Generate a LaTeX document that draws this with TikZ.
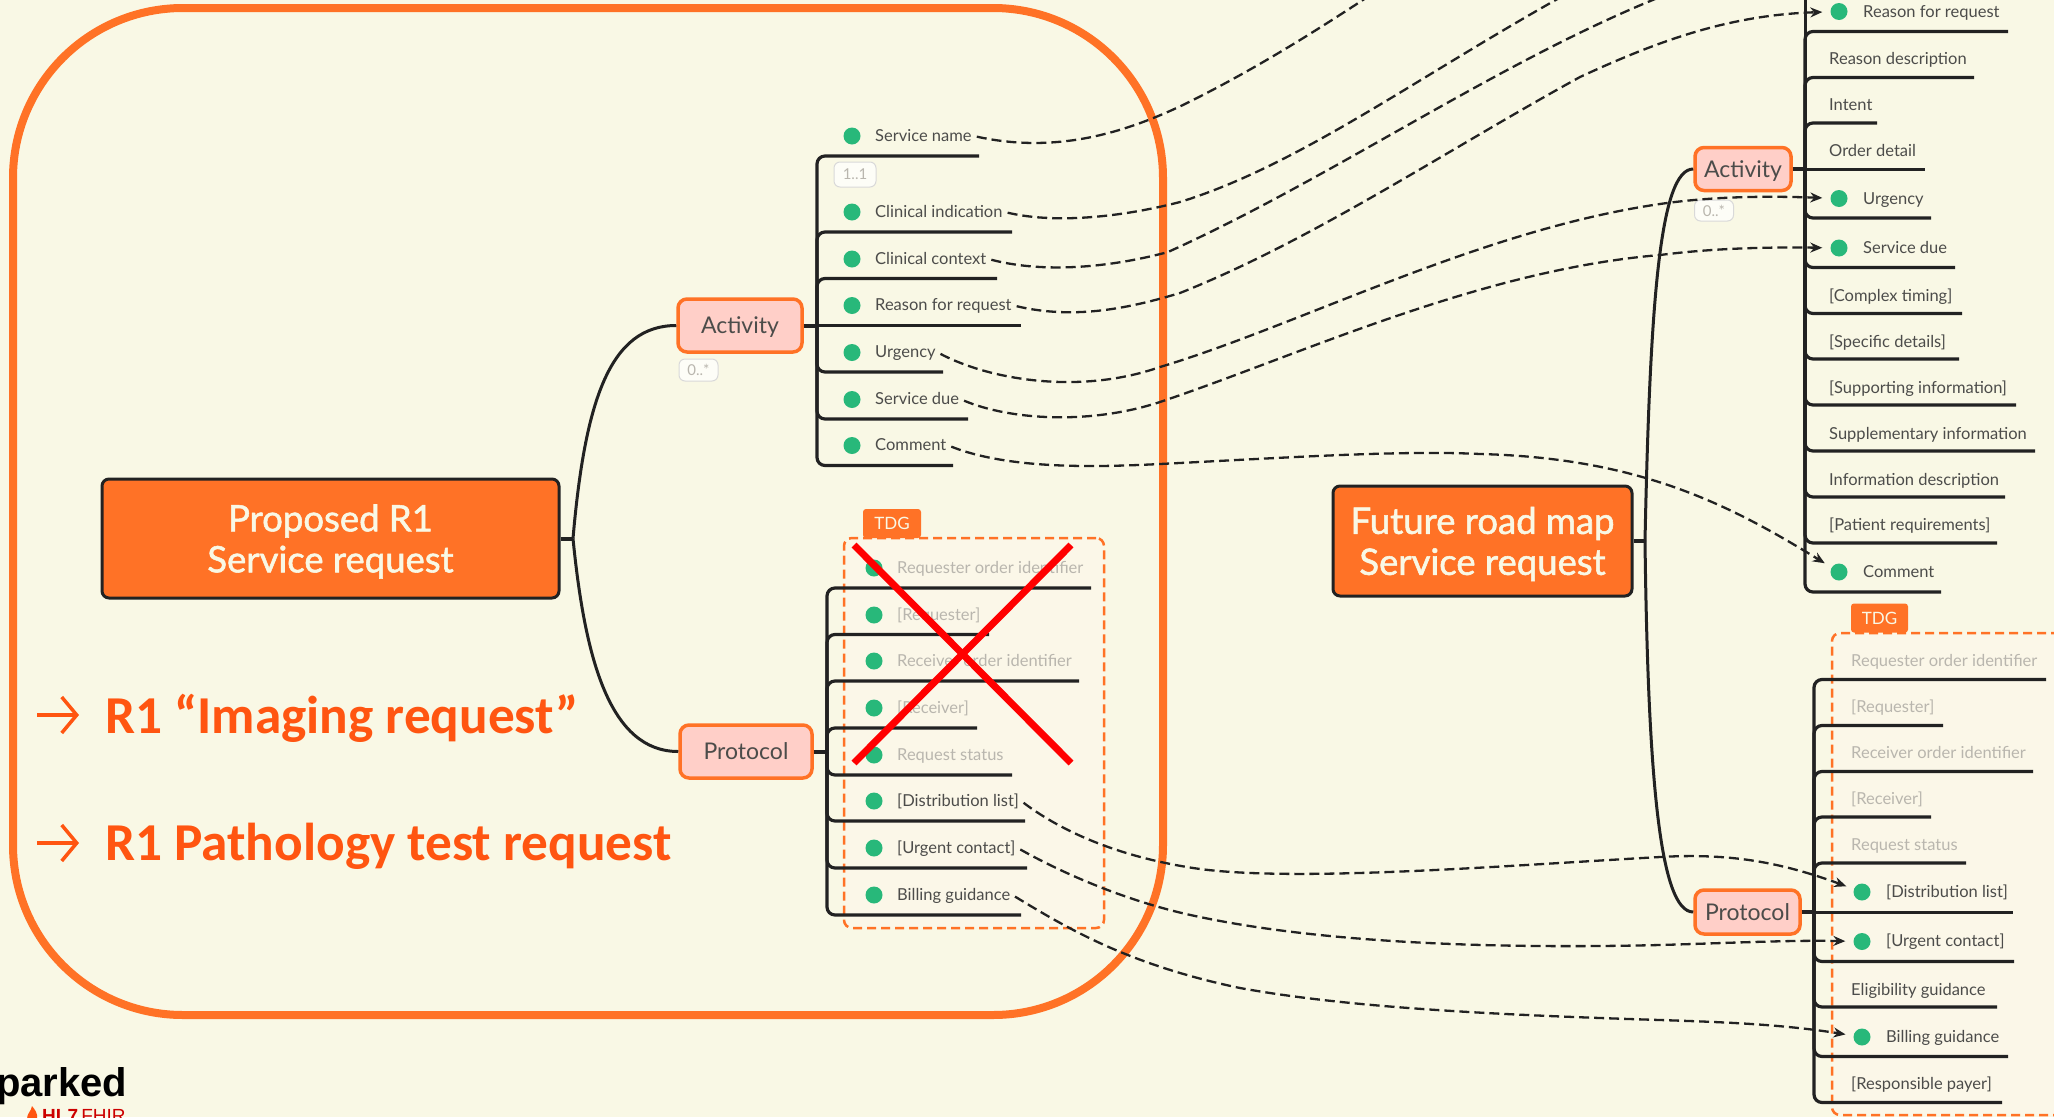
\documentclass[tikz,border=0pt]{standalone}
\usepackage{fontspec}
\setmainfont{Lato}
\newfontfamily\redfont{Carlito}
\newfontfamily\logofont{Liberation Sans}
\newfontfamily\rootfont{Lato}[FakeBold=1.5]
\usepackage{tikz}
\usetikzlibrary{arrows.meta}
\usepackage{xcolor}

\definecolor{paper}{HTML}{F9F8E5}
\definecolor{hlorange}{HTML}{FF7226}
\definecolor{hlpink}{HTML}{FFCFC8}
\definecolor{hlgreen}{HTML}{28B87A}
\definecolor{hlred}{HTML}{FF5511}
\definecolor{ink}{HTML}{222222}
\definecolor{leaftext}{HTML}{4C4C4A}
\definecolor{fadetext}{HTML}{B9B6AE}
\definecolor{tdgfill}{HTML}{FBF7E8}

\tikzset{
    root/.style={draw=ink,fill=hlorange,line width=3pt,rounded corners=7pt,text=paper,align=center,font=\rootfont\fontsize{36.5}{41}\selectfont},
    group/.style={draw=hlorange,fill=hlpink,line width=3.5pt,rounded corners=9pt,text=leaftext,text height=17pt,text depth=1pt,font=\fontsize{23}{27}\selectfont},
    leaf/.style={anchor=west,inner sep=2pt,text height=12pt,text depth=2pt,text=leaftext,font=\fontsize{16.5}{19}\selectfont},
    fade/.style={leaf,text=fadetext},
    dot/.style={circle,fill=hlgreen,inner sep=0pt,minimum size=17pt},
    pill/.style={draw=black!15,fill=white!70!paper,line width=1pt,rounded corners=6pt,text=fadetext,font=\fontsize{15}{18}\selectfont},
    tdg/.style={fill=hlorange,rounded corners=3pt,text=paper,font=\fontsize{17}{20}\selectfont},
    tdgbox/.style={draw=hlorange,fill=tdgfill,line width=2.5pt,dash pattern=on 9pt off 5pt,rounded corners=8pt},
    branch/.style={draw=ink,line width=3.2pt,rounded corners=8pt},
    trunk/.style={draw=ink,line width=3pt},
    stem/.style={draw=ink,line width=4pt},
    link/.style={draw=ink,line width=2.3pt,dash pattern=on 10pt off 5pt,shorten <=3pt},
    linkto/.style={link,shorten >=8pt,-{Stealth[length=12pt,width=10pt]}},
    callout/.style={anchor=base west,inner sep=0pt,text=hlred,font=\redfont\bfseries\fontsize{53.3}{60}\selectfont},
    calloutarrow/.style={draw=hlred,line width=3.5pt,-{Straight Barb[length=15pt,width=36pt]}}
}

\begin{document}
\begin{tikzpicture}[x=1pt,y=-1pt]
        \useasboundingbox (0,0) rectangle (2054,1117);
        \fill[paper] (0,0) rectangle (2054,1117);

        \node [draw=hlorange,line width=8pt,rounded corners=170pt,minimum width=1150pt,minimum height=1007pt] (frame) at (588,511.5) {};
        \node [tdgbox,minimum width=260pt,minimum height=390pt] (ltdg) at (974,733) {};
        \node [tdgbox,minimum width=250pt,minimum height=482pt] (rtdg) at (1957,874) {};
        \node [tdg,minimum width=58pt,minimum height=29pt] (ltab) at (892,523.5) {TDG};
        \node [tdg,minimum width=57pt,minimum height=29pt] (rtab) at (1879.5,618) {TDG};

        \node [root,minimum width=457pt,minimum height=119pt] (lroot) at (330.5,538.5) {\rule{0pt}{33pt}Proposed R1\\Service request};
        \node [root,minimum width=299pt,minimum height=110pt] (rroot) at (1482.5,541) {\rule{0pt}{33pt}Future road map\\Service request};
        \node [group,minimum width=124pt,minimum height=53pt] (lact) at (740,325.5) {Activity};
        \node [group,minimum width=132pt,minimum height=53pt] (lpro) at (746,751.5) {Protocol};
        \node [group,minimum width=96pt,minimum height=43pt] (ract) at (1743,169) {Activity};
        \node [group,minimum width=105pt,minimum height=44pt] (rpro) at (1747.5,912) {Protocol};
        \node [pill,minimum width=42pt,minimum height=25pt] (lone) at (855,174.5) {1..1};
        \node [pill,minimum width=39pt,minimum height=22pt] (lcard) at (698.5,370) {0..*};
        \node [pill,minimum width=39pt,minimum height=21pt] (rcard) at (1714,210.5) {0..*};

        \coordinate (ljoin) at (573,538.5);
        \coordinate (rjoin) at (1645,541);
        \coordinate (lspa) at (817,325.5);
        \coordinate (lspp) at (827,751.5);
        \coordinate (rspa) at (1805,169);
        \coordinate (rspp) at (1814,912);
        \coordinate (rtop) at (1805,-6);

        \coordinate (lsne) at (979,156);
        \coordinate (lcie) at (1012,232);
        \coordinate (lcce) at (997,278.5);
        \coordinate (lrre) at (1021,325.5);
        \coordinate (lure) at (943,372);
        \coordinate (lsde) at (968,419);
        \coordinate (lcoe) at (953,465.5);
        \coordinate (lroe) at (1091,588);
        \coordinate (lrqe) at (989,634.5);
        \coordinate (lrce) at (1079,681);
        \coordinate (lrve) at (977,728);
        \coordinate (lste) at (1012,775);
        \coordinate (ldle) at (1025,821);
        \coordinate (luce) at (1027,868);
        \coordinate (lbge) at (1021,915);
        \coordinate (rrre) at (2008,31.5);
        \coordinate (rrde) at (1974,77.5);
        \coordinate (rine) at (1877,123);
        \coordinate (rode) at (1925,169);
        \coordinate (rure) at (1931,218);
        \coordinate (rsde) at (1955,267.5);
        \coordinate (rcte) at (1962,313.5);
        \coordinate (rspe) at (1959,359);
        \coordinate (rsue) at (2016,405);
        \coordinate (rsme) at (2035,451);
        \coordinate (rpie) at (2005,497);
        \coordinate (rpre) at (1997,543);
        \coordinate (rcoe) at (1941,592);
        \coordinate (rroe) at (2046,679.5);
        \coordinate (rrqe) at (1943,725.5);
        \coordinate (rrce) at (2033,771.5);
        \coordinate (rrve) at (1931,817);
        \coordinate (rste) at (1966,863);
        \coordinate (rdle) at (2013,912);
        \coordinate (ruce) at (2014,961.5);
        \coordinate (rege) at (1997,1007);
        \coordinate (rbge) at (2008,1056.5);
        \coordinate (rrpe) at (2002,1102.5);

        \draw[stem] (lroot) to (ljoin);
        \draw[stem] (rroot) to (rjoin);
        \draw[trunk] (ljoin) .. controls (585,400) and (610,325.5) .. (lact);
        \draw[trunk] (ljoin) .. controls (585,660) and (610,751.5) .. (lpro);
        \draw[trunk] (rjoin) .. controls (1650,300) and (1660,169) .. (ract);
        \draw[trunk] (rjoin) .. controls (1648,780) and (1660,912) .. (rpro);
        \draw[stem] (lact) to (lspa);
        \draw[stem] (lpro) to (lspp);
        \draw[stem] (ract) to (rspa);
        \draw[stem] (rpro) to (rspp);
        \draw[trunk] (lspa) to (lrre);
        \draw[trunk] (rspa) to (rode);
        \draw[trunk] (rspp) to (rdle);
        \draw[trunk] (rspa) to (rtop);

        \draw[branch] (lspa) |- (lsne);
        \draw[branch] (lspa) |- (lcie);
        \draw[branch] (lspa) |- (lcce);
        \draw[branch] (lspa) |- (lure);
        \draw[branch] (lspa) |- (lsde);
        \draw[branch] (lspa) |- (lcoe);
        \draw[branch] (lspp) |- (lroe);
        \draw[branch] (lspp) |- (lrqe);
        \draw[branch] (lspp) |- (lrce);
        \draw[branch] (lspp) |- (lrve);
        \draw[branch] (lspp) |- (lste);
        \draw[branch] (lspp) |- (ldle);
        \draw[branch] (lspp) |- (luce);
        \draw[branch] (lspp) |- (lbge);
        \draw[branch] (rspa) |- (rrre);
        \draw[branch] (rspa) |- (rrde);
        \draw[branch] (rspa) |- (rine);
        \draw[branch] (rspa) |- (rure);
        \draw[branch] (rspa) |- (rsde);
        \draw[branch] (rspa) |- (rcte);
        \draw[branch] (rspa) |- (rspe);
        \draw[branch] (rspa) |- (rsue);
        \draw[branch] (rspa) |- (rsme);
        \draw[branch] (rspa) |- (rpie);
        \draw[branch] (rspa) |- (rpre);
        \draw[branch] (rspa) |- (rcoe);
        \draw[branch] (rspp) |- (rroe);
        \draw[branch] (rspp) |- (rrqe);
        \draw[branch] (rspp) |- (rrce);
        \draw[branch] (rspp) |- (rrve);
        \draw[branch] (rspp) |- (rste);
        \draw[branch] (rspp) |- (ruce);
        \draw[branch] (rspp) |- (rege);
        \draw[branch] (rspp) |- (rbge);
        \draw[branch] (rspp) |- (rrpe);

        \node [dot] (dlsn) at (852,136) {};
        \node [dot] (dlci) at (852,212) {};
        \node [dot] (dlcc) at (852,259) {};
        \node [dot] (dlrr) at (852,305.5) {};
        \node [dot] (dlur) at (852,352.5) {};
        \node [dot] (dlsd) at (852,399.5) {};
        \node [dot] (dlco) at (852,445.5) {};
        \node [dot] (dlro) at (874,568) {};
        \node [dot] (dlrq) at (874,615) {};
        \node [dot] (dlrc) at (874,661) {};
        \node [dot] (dlrv) at (874,708) {};
        \node [dot] (dlst) at (874,755) {};
        \node [dot] (dldl) at (874,801) {};
        \node [dot] (dluc) at (874,848) {};
        \node [dot] (dlbg) at (874,895) {};
        \node [dot] (drrr) at (1839,11.5) {};
        \node [dot] (drur) at (1839,198.5) {};
        \node [dot] (drsd) at (1839,248) {};
        \node [dot] (drco) at (1839,572) {};
        \node [dot] (drdl) at (1862,892) {};
        \node [dot] (druc) at (1862,941.5) {};
        \node [dot] (drbg) at (1862,1037) {};

        \node [leaf] (lsn) at (873,136) {Service name};
        \node [leaf] (lci) at (873,212) {Clinical indication};
        \node [leaf] (lcc) at (873,259) {Clinical context};
        \node [leaf] (lrr) at (873,305.5) {Reason for request};
        \node [leaf] (lur) at (873,352.5) {Urgency};
        \node [leaf] (lsd) at (873,399.5) {Service due};
        \node [leaf] (lco) at (873,445.5) {Comment};
        \node [fade] (lro) at (895,568) {Requester order identifier};
        \node [fade] (lrq) at (895,615) {[Requester]};
        \node [fade] (lrc) at (895,661) {Receiver order identifier};
        \node [fade] (lrv) at (895,708) {[Receiver]};
        \node [fade] (lst) at (895,755) {Request status};
        \node [leaf] (ldl) at (895,801) {[Distribution list]};
        \node [leaf] (luc) at (895,848) {[Urgent contact]};
        \node [leaf] (lbg) at (895,895) {Billing guidance};
        \node [leaf] (rrr) at (1861,12) {Reason for request};
        \node [leaf] (rrd) at (1827,59) {Reason description};
        \node [leaf] (rin) at (1827,105) {Intent};
        \node [leaf] (rod) at (1827,151) {Order detail};
        \node [leaf] (rur) at (1861,199) {Urgency};
        \node [leaf] (rsd) at (1861,248) {Service due};
        \node [leaf] (rct) at (1827,296) {[Complex timing]};
        \node [leaf] (rsp) at (1827,342) {[Specific details]};
        \node [leaf] (rsu) at (1827,388) {[Supporting information]};
        \node [leaf] (rsm) at (1827,434) {Supplementary information};
        \node [leaf] (rpi) at (1827,480) {Information description};
        \node [leaf] (rpr) at (1827,525.5) {[Patient requirements]};
        \node [leaf] (rco) at (1861,572) {Comment};
        \node [fade] (rro) at (1849,661) {Requester order identifier};
        \node [fade] (rrq) at (1849,707) {[Requester]};
        \node [fade] (rrc) at (1849,753) {Receiver order identifier};
        \node [fade] (rrv) at (1849,799) {[Receiver]};
        \node [fade] (rst) at (1849,845.5) {Request status};
        \node [leaf] (rdl) at (1884,892) {[Distribution list]};
        \node [leaf] (ruc) at (1884,941.5) {[Urgent contact]};
        \node [leaf] (reg) at (1849,990) {Eligibility guidance};
        \node [leaf] (rbg) at (1884,1037) {Billing guidance};
        \node [leaf] (rrp) at (1849,1084) {[Responsible payer]};

        \coordinate (upsn) at (1375,-8);
        \coordinate (upci) at (1570,-8);
        \coordinate (upcc) at (1665,-5);
        \draw[link] (lsn.east) .. controls (1060,155) and (1130,130) .. (1183,105) .. controls (1250,72) and (1310,35) .. (upsn);
        \draw[link] (lci.east) .. controls (1060,225) and (1130,215) .. (1180,202) .. controls (1300,165) and (1420,75) .. (upci);
        \draw[link] (lcc.east) .. controls (1050,275) and (1120,265) .. (1168,252) .. controls (1334,177) and (1499,61) .. (upcc);
        \draw[linkto] (lrr.east) .. controls (1075,320) and (1130,308) .. (1180,293) .. controls (1313,240) and (1447,150) .. (1580,77) .. controls (1660,40) and (1730,15) .. (drrr);
        \draw[linkto] (lur.east) .. controls (990,380) and (1080,395) .. (1160,367) .. controls (1300,325) and (1480,230) .. (1660,204) .. controls (1715,196) and (1770,196) .. (drur);
        \draw[linkto] (lsd.east) .. controls (1010,420) and (1090,425) .. (1160,402) .. controls (1300,355) and (1480,270) .. (1660,255) .. controls (1715,248) and (1770,247) .. (drsd);
        \draw[linkto] (lco.east) .. controls (1010,470) and (1100,467) .. (1160,464) .. controls (1280,458) and (1400,450) .. (1480,454) .. controls (1640,458) and (1730,505) .. (drco);
        \draw[linkto] (ldl.east) .. controls (1080,845) and (1150,862) .. (1200,869) .. controls (1300,882) and (1500,866) .. (1660,857) .. controls (1730,853) and (1780,862) .. (drdl);
        \draw[linkto] (luc.east) .. controls (1075,880) and (1140,905) .. (1200,917) .. controls (1300,938) and (1450,950) .. (1660,945) .. controls (1730,943) and (1790,940) .. (druc);
        \draw[linkto] (lbg.east) .. controls (1070,930) and (1130,965) .. (1240,988) .. controls (1350,1008) and (1500,1015) .. (1660,1020) .. controls (1720,1022) and (1780,1024) .. (drbg);

        \draw[red,line width=7pt] (854,545) to (1071,763);
        \draw[red,line width=7pt] (854,763) to (1071,545);

        \node [callout] (imaging) at (105,733) {R1 “Imaging request”};
        \node [callout] (pathology) at (105,860) {R1 Pathology test request};
        \coordinate (imagingtail) at (37,715);
        \coordinate (imaginghead) at (79,715);
        \coordinate (pathtail) at (37,843);
        \coordinate (pathhead) at (79,843);
        \draw[calloutarrow] (imagingtail) to (imaginghead);
        \draw[calloutarrow] (pathtail) to (pathhead);

        \node [anchor=base west,inner sep=0pt,font=\logofont\bfseries\fontsize{40}{46}\selectfont] (sparked) at (-4,1096) {parked};
        \node [anchor=base west,inner sep=0pt,text=red!80!black,font=\logofont\fontsize{19}{22}\selectfont] (hlfhir) at (42,1122) {\textbf{HL7}\,FHIR};
        \fill[hlred] (32,1106) .. controls (35,1110) and (38,1113) .. (37,1119) -- (27,1119) .. controls (27,1113) and (31,1112) .. cycle;
\end{tikzpicture}
\end{document}
